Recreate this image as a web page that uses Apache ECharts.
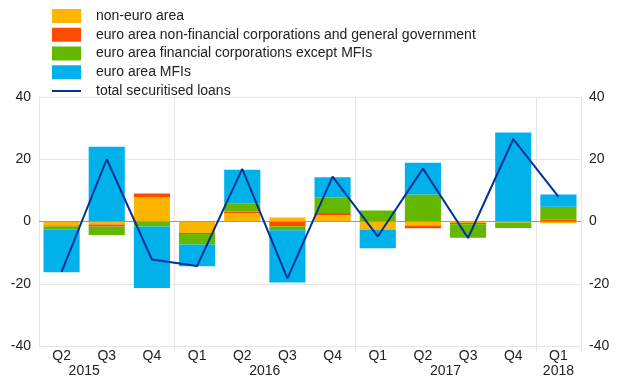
<!DOCTYPE html>
<html>
<head>
<meta charset="utf-8">
<script src="https://cdn.jsdelivr.net/npm/echarts@6/dist/echarts.min.js"></script>
<style>html,body{margin:0;padding:0;background:#fff}#c{width:620px;height:387px}</style>
</head>
<body>
<div id="c"></div>
<script>
var quarters = ['Q2','Q3','Q4','Q1','Q2','Q3','Q4','Q1','Q2','Q3','Q4','Q1'];
var yearSlots = ['','','2015','','','','','','','','2016','','','','','','','','2017','','','','','2018',''];
var nonEuro = [-1.3, -1.0, 7.9, -3.7, 2.7, 1.3, 2.0, -2.7, -1.3, -0.5, -0.3, -0.6];
var nfcGov = [-0.3, -0.6, 1.1, -0.3, 0.55, -1.5, 0.75, 0, -0.9, -0.4, 0, 0.6];
var finCorp = [-1.0, -2.7, -1.6, -3.4, 2.6, -1.3, 5.0, 3.5, 8.7, -4.3, -1.8, 4.1];
var mfis = [-13.7, 24.0, -19.8, -7.0, 10.75, -16.8, 6.5, -5.9, 10.2, 0, 28.6, 4.0];
var total = [-16.2, 20.0, -12.2, -14.3, 16.9, -18.3, 14.4, -4.8, 17.0, -5.3, 26.5, 8.0];
var yTicks = {min: -40, max: 40, interval: 20};
var names = ['non-euro area','euro area non-financial corporations and general government','euro area financial corporations except MFIs','euro area MFIs','total securitised loans'];
var colors = ['#FFB400','#FF4B00','#65B800','#00B1EA','#003299'];

var chart = echarts.init(document.getElementById('c'), null, {renderer:'canvas'});
var font = 'Liberation Sans, Arial, sans-serif';
var gridCol = '#e6e6e6';
function barSeries(i, data){
  var s = {name: names[i], type:'bar', stack:'s', data:data, barWidth:'80%',
    itemStyle:{color:colors[i]}, emphasis:{disabled:true}};
  if(i===0){
    s.markLine = {silent:true, symbol:'none', label:{show:false},
      lineStyle:{color:'#9a9a9a', width:1, type:'solid'}, data:[{yAxis:0}]};
  }
  return s;
}
chart.setOption({
  animation:false,
  textStyle:{fontFamily:font},
  legend:{orient:'vertical', left:47, top:4, itemWidth:29, itemHeight:14, itemGap:4.75,
    symbolKeepAspect:true,
    textStyle:{fontSize:14, color:'#222', padding:[0,0,0,10], lineHeight:14, fontFamily:font},
    data:[
      {name:names[0], icon:'rect'},
      {name:names[1], icon:'rect'},
      {name:names[2], icon:'rect'},
      {name:names[3], icon:'rect'},
      {name:names[4], icon:'path://M0,0 L29,0 L29,2 L0,2 Z', itemStyle:{color:colors[4]}}
    ]},
  grid:{left:39, right:39, top:97, bottom:41},
  xAxis:[{
    type:'category', data:quarters, position:'bottom',
    axisLine:{onZero:false, lineStyle:{color:gridCol}},
    axisTick:{show:true, length:6, lineStyle:{color:gridCol},
      interval:function(i){return quarters[i]==='Q1';}},
    splitLine:{show:true, lineStyle:{color:gridCol},
      interval:function(i){return quarters[i]==='Q1';}},
    axisLabel:{fontSize:14, color:'#222', margin:3, interval:0, fontFamily:font}
  },{
    type:'category', data:yearSlots, position:'bottom', boundaryGap:false,
    axisLine:{show:false}, axisTick:{show:false}, splitLine:{show:false},
    axisLabel:{fontSize:14, color:'#222', margin:18, interval:0, fontFamily:font}
  }],
  yAxis:[{
    type:'value', min:yTicks.min, max:yTicks.max, interval:yTicks.interval, position:'left',
    axisLine:{show:true, lineStyle:{color:gridCol}}, axisTick:{show:false},
    splitLine:{show:true, lineStyle:{color:gridCol}},
    axisLabel:{fontSize:14, color:'#222', margin:8, fontFamily:font}
  },{
    type:'value', min:yTicks.min, max:yTicks.max, interval:yTicks.interval, position:'right',
    axisLine:{show:true, lineStyle:{color:gridCol}}, axisTick:{show:false},
    splitLine:{show:false},
    axisLabel:{fontSize:14, color:'#222', margin:8, fontFamily:font}
  }],
  series:[
    barSeries(0, nonEuro),
    barSeries(1, nfcGov),
    barSeries(2, finCorp),
    barSeries(3, mfis),
    {name:names[4], type:'line', data:total, symbol:'none', showSymbol:false,
      lineStyle:{color:colors[4], width:2}, itemStyle:{color:colors[4]}, z:5,
      emphasis:{disabled:true}}
  ]
});
</script>
</body>
</html>
